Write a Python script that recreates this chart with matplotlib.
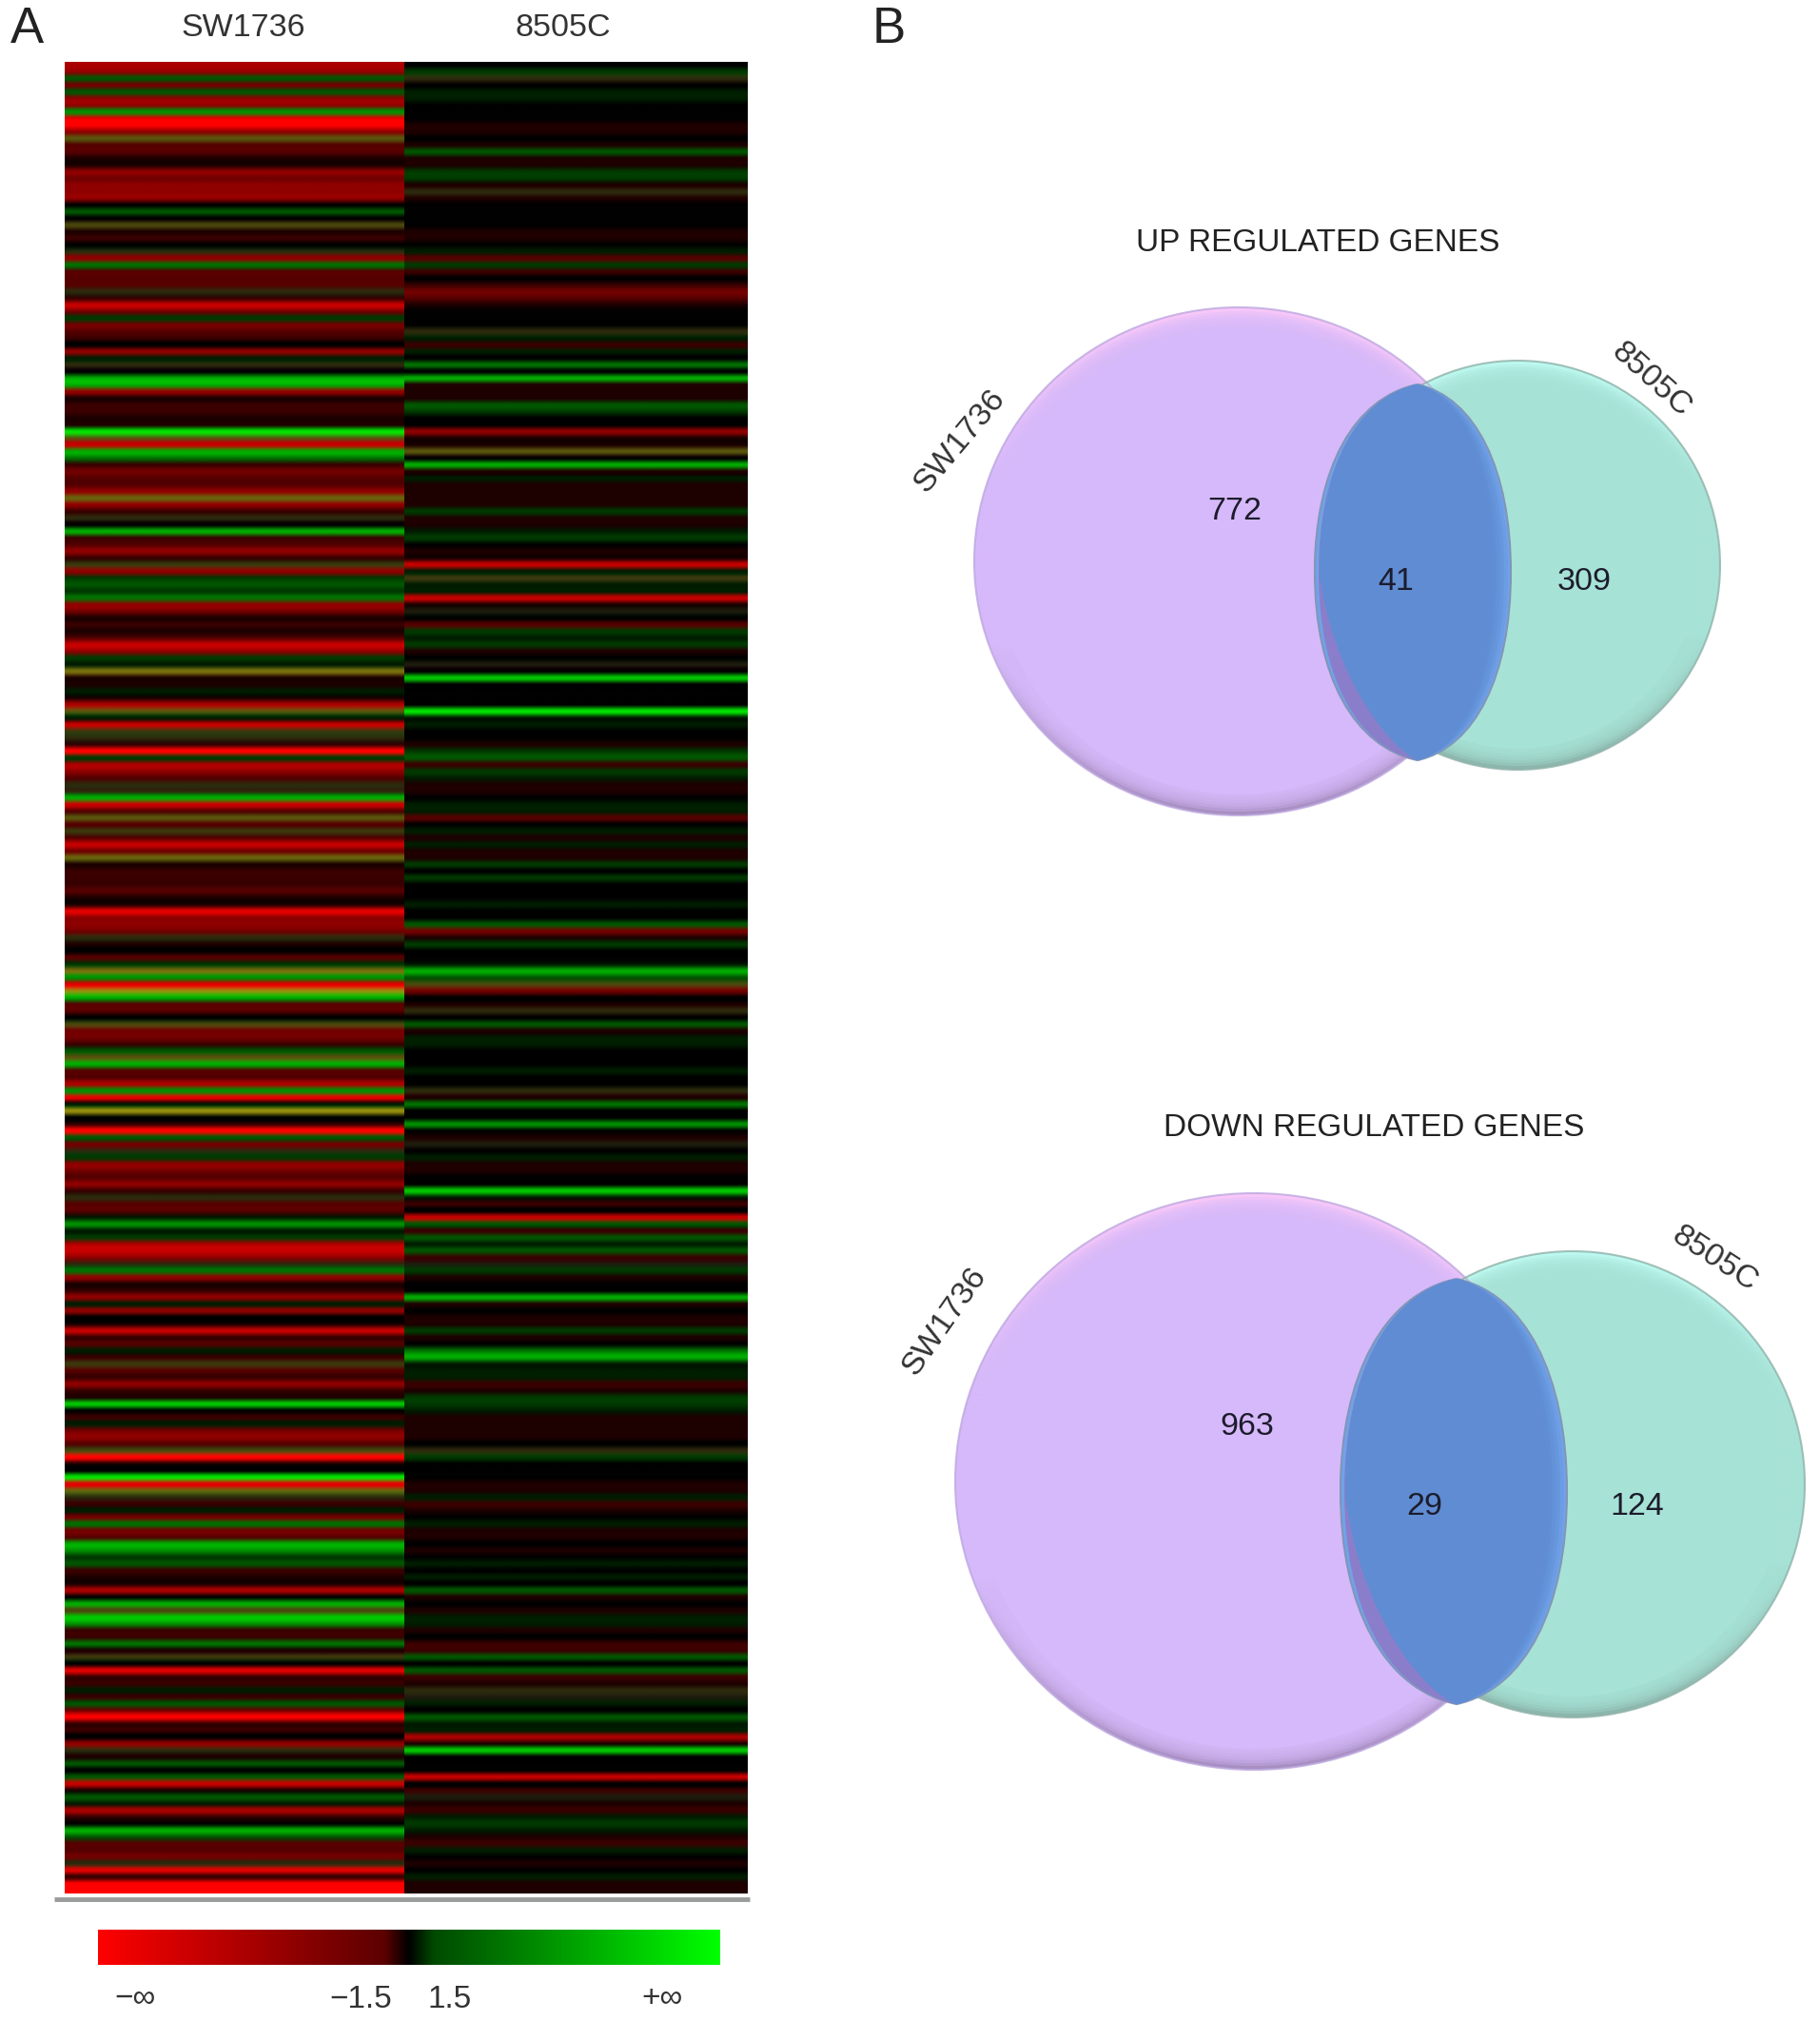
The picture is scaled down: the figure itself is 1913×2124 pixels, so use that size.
# -*- coding: utf-8 -*-
# Heat map of the two cell lines (A) and the two Venn diagrams (B)
import numpy as np
import matplotlib
matplotlib.use('Agg')
import matplotlib.pyplot as plt
from matplotlib.colors import LinearSegmentedColormap, Normalize
from matplotlib.patches import Ellipse, PathPatch
from matplotlib.path import Path

plt.rcParams['font.family'] = ['Liberation Sans', 'DejaVu Sans']

# Heat map rows: negative = red, positive = green
sw1736 = [
    -6, -5, 3, -4, 3, -5, -5, 5, -8, -9,
    -5, 0, -3, -3, -1, -1, -5, -4, -5, -5,
    -5, 0, 3, 0, 0, -1, -2, 0, 0, -5,
    4, -3, -3, -3, 0, -2, -7, -4, 2, -4,
    -3, -2, 0, -5, 1, 0, 0, 6, 6, -5,
    -1, -2, -2, -1, -1, 8, 0, -7, 6, 4,
    -2, -4, -3, -3, -5, 0, -5, -2, 0, 0,
    6, -2, -3, -5, -2, 0, -5, 2, 3, 2,
    4, -5, -4, -1, -2, -1, -3, -7, -5, 2,
    1, 0, -1, -1, 1, -1, -6, 0, 1, -7,
    0, 0, -2, -9, 2, -6, -5, -3, 0, 0,
    6, -7, -3, 0, -3, 0, -3, -7, -4, 0,
    -1, -2, -2, -2, -3, -1, -1, -8, -5, -5,
    -4, 0, -1, 0, -3, 2, 0, 5, -8, 0,
    6, -3, -3, 0, 0, -4, -4, -2, 3, 0,
    6, -3, -3, -6, 5, -8, 1, 0, 0, -2,
    -9, 3, -4, 0, 2, -5, -4, -3, -5, -2,
    0, -3, -3, 1, 5, 1, 2, -6, -7, -5,
    0, 4, -5, -1, -2, -5, 1, -5, 0, -1,
    -7, -2, -3, 1, -2, 0, -3, -2, -5, -2,
    -1, 7, 0, -2, 1, -4, -5, -3, 0, -9,
    -1, 0, 8, -8, 0, 0, -2, 1, -4, 4,
    -4, -3, 6, 5, 2, 3, -2, -1, -1, -6,
    0, 6, 0, 7, 5, -2, -2, 4, -1, 0,
    0, -8, -2, -2, 1, -2, 3, -4, -9, -2,
    -2, 0, -5, 0, -1, 3, 0, 3, -7, -1,
    3, 1, -6, -2, 0, 6, 3, -3, -3, -4,
    0, -8, -2, -9, -9,
]
c8505 = [
    0, 2, 0, 0, 1, 1, 0, 0, 0, -1,
    -1, 0, -1, 3, -1, -1, 2, 2, -1, 0,
    -1, 0, 0, 0, 0, -1, -1, 0, 1, -3,
    2, -2, 0, -2, -4, -3, -1, 0, 0, 0,
    0, 1, -2, 1, 0, 4, 0, 6, -1, -1,
    -1, 3, 2, 0, 0, -5, -1, -1, 0, 0,
    6, -1, 1, -1, -1, -1, -1, 2, -1, -1,
    1, 2, 0, -1, -1, -7, 1, 0, 1, 1,
    -7, -1, 0, 0, -3, 2, 1, 2, -1, 0,
    0, 0, 7, 0, 0, 0, 0, 8, 1, 1,
    0, 0, -1, 2, 3, -2, 2, 1, -1, -1,
    0, 1, 1, -3, 0, 1, -1, 1, -1, -1,
    2, 0, 2, 0, 0, 0, 1, 0, 0, 3,
    -4, -1, 2, 0, 0, 1, 6, 3, 0, -4,
    0, -1, 0, 0, 3, -1, 1, 1, 0, 0,
    0, 1, 0, 0, 0, -1, 4, 0, 0, 5,
    0, -1, 0, 0, 1, -1, -1, 0, 0, 7,
    1, -2, 0, -7, 3, -2, 3, 1, 3, -2,
    0, 2, -1, 0, 0, 6, -1, 0, -1, -1,
    2, -1, 0, 4, 6, 1, 1, 1, -2, -1,
    2, 2, 1, -1, -1, -1, -1, 0, 0, 2,
    0, 0, 0, -1, -1, 1, -2, -1, 0, 1,
    -1, -1, 0, -1, 0, 1, 0, 1, 0, 3,
    -1, 0, -1, 1, 1, -1, 0, -2, -2, 3,
    0, 3, -2, -1, 0, 0, 1, 0, 3, 1,
    1, -6, -1, 7, 0, 0, 0, -7, 0, -2,
    0, -1, -2, 1, 2, 1, -1, -2, 1, 0,
    -1, 0, 1, -1, -1,
]

# Rows that mix red and green (olive in the picture): row number and strength
sw1736_olive_rows = [11, 24, 28, 34, 45, 56, 65, 68, 75, 91, 97, 100, 101, 108, 109, 113, 115, 119,
                     131, 136, 139, 144, 149, 157, 163, 170, 180, 195, 208, 214, 215, 232, 239, 253, 270]
sw1736_olive_levels = [3, 2.5, 1.5, 1.5, 1.5, 3, 3.5, 1.5, 2, 4, 3, 2, 1.5, 1.5, 1.5, 3, 2, 3.5,
                       1.5, 4, 5, 2.5, 3, 5, 1.5, 1.5, 1.5, 2, 2.5, 3.5, 1.5, 2.5, 2, 1.5, 1.5]
c8505_olive_rows = [2, 19, 40, 58, 77, 82, 90, 138, 142, 154, 162, 180, 208, 244, 245, 260]
c8505_olive_levels = [1.5, 1.5, 1.5, 3, 2, 1, 1, 2.5, 1.5, 1.5, 1, 1, 1.5, 1.5, 1, 1]

column_names = ['SW1736', '8505C']
scale_labels = ['\u2212\u221e', '\u22121.5', '1.5', '+\u221e']

venn_titles = ['UP REGULATED GENES', 'DOWN REGULATED GENES']
venn_counts = [[772, 41, 309], [963, 29, 124]]

cmap = LinearSegmentedColormap.from_list('rojo_verde', ['#ff0000', '#000000', '#00ff00'])
# the scale bar drops to black only right at its middle
cmap_escala = LinearSegmentedColormap.from_list(
    'escala', [(0, '#ff0000'), (0.46, '#5c0000'), (0.5, '#000000'), (0.54, '#004a00'), (1, '#00ff00')])
norm = Normalize(-9, 9)


def filas_rgb(valores, filas_olive, niveles_olive):
    # values through the colormap, then the mixed rows on top
    rgb = cmap(norm(np.array(valores, dtype=float)))[:, :3]
    for fila, nivel in zip(filas_olive, niveles_olive):
        rgb[fila] = [nivel / 9 * 1.05, nivel / 9, 0.05]
    return rgb[:, np.newaxis, :]


def venn_disco(ax, cx, cy, rx, ry, arriba, medio, abajo, borde):
    # bevelled disc: gradient rim fading into a flat centre
    rim = LinearSegmentedColormap.from_list('rim', [arriba, medio, medio, abajo])
    patch = Ellipse((cx, cy), 2 * rx, 2 * ry, fc='none', ec=borde, lw=1.5, alpha=0.8, zorder=3)
    im = ax.imshow(np.linspace(0, 1, 256)[:, np.newaxis], cmap=rim, aspect='auto',
                   extent=[cx - rx, cx + rx, cy + ry, cy - ry], zorder=2, interpolation='bilinear')
    ax.add_patch(patch)
    im.set_clip_path(patch)
    for paso in range(4, 22, 3):
        ax.add_patch(Ellipse((cx, cy), 2 * (rx - paso), 2 * (ry - paso), fc=medio, ec='none',
                             alpha=0.3, zorder=3))
    ax.add_patch(Ellipse((cx, cy), 2 * (rx - 22), 2 * (ry - 22), fc=medio, ec='none', zorder=3))


def lente(ax, xtip, top, bottom, left, right):
    # the overlap, two arcs that meet in a point top and bottom
    ym = (top + bottom) / 2
    h = ym - top

    def camino(xl, xr, tirar=0):
        verts = [(xtip, top),
                 (xtip + 0.62 * (xr - xtip), top + 0.07 * h), (xr, ym - 0.55 * h), (xr, ym),
                 (xr, ym + 0.55 * h), (xtip + 0.62 * (xr - xtip), bottom - 0.07 * h), (xtip, bottom),
                 (xtip + 0.62 * (xl - xtip) + tirar, bottom - 0.07 * h), (xl + tirar * 0.4, ym + 0.55 * h), (xl, ym),
                 (xl, ym - 0.55 * h), (xtip + 0.62 * (xl - xtip), top + 0.07 * h), (xtip, top)]
        codes = [Path.MOVETO] + [Path.CURVE4] * 12
        return Path(verts, codes)

    ax.add_patch(PathPatch(camino(left, right), fc='#6fa3ea', ec='#8296b8', lw=1.5, zorder=4))
    # darker sliver only on the lower left
    ax.add_patch(PathPatch(camino(left + 4, right - 30), fc='#8a7ecb', ec='none', zorder=4))
    ax.add_patch(PathPatch(camino(left + 5, right - 3, 34), fc='#6c9de4', ec='none', zorder=4))
    for paso, alfa in zip([4, 8, 12], [0.4, 0.4, 0.5]):
        ax.add_patch(PathPatch(camino(left + 5, right - 3 - paso, 34), fc='#5f8cd2', ec='none',
                               alpha=alfa, zorder=4))
    ax.add_patch(PathPatch(camino(left + 5, right - 19, 34), fc='#5f8cd2', ec='none', zorder=4))


fig = plt.figure(figsize=(19.13, 21.24), dpi=100)
ax = fig.add_axes([0, 0, 1, 1])
ax.set_xlim(0, 1913)
ax.set_ylim(2124, 0)
ax.set_autoscale_on(False)
ax.axis('off')

# A ***************************************************************************
ax.imshow(filas_rgb(sw1736, sw1736_olive_rows, sw1736_olive_levels), aspect='auto',
          extent=[67.5, 425, 1990, 65], interpolation='catrom', zorder=1)
ax.imshow(filas_rgb(c8505, c8505_olive_rows, c8505_olive_levels), aspect='auto',
          extent=[425, 786, 1990, 65], interpolation='catrom', zorder=1)
ax.plot([57, 788], [1996, 1996], color='#9a9c9c', lw=3.5, solid_capstyle='butt')

ax.text(28, 31, 'A', fontsize=38, ha='center', va='center', color='#222222')
ax.text(256, 30, column_names[0], fontsize=24.5, ha='center', va='center', color='#333333')
ax.text(592, 30, column_names[1], fontsize=24.5, ha='center', va='center', color='#333333')

# colour scale
ax.imshow(np.linspace(-9, 9, 512)[np.newaxis, :], cmap=cmap_escala, norm=norm, aspect='auto',
          extent=[103, 757, 2065, 2028], interpolation='bilinear', zorder=1)
for texto, x in zip(scale_labels, [142, 379, 473, 696]):
    ax.text(x, 2101, texto, fontsize=24, ha='center', va='center', color='#333333')

# B ***************************************************************************
ax.text(934, 31, 'B', fontsize=38, ha='center', va='center', color='#222222')

morado = ('#f8c8f8', '#d6b9fa', '#a88fc2', '#bda8e0')
turquesa = ('#bdf9f0', '#a7e2d6', '#8cb6ac', '#8fb2aa')

# up regulated
ax.text(1385, 255, venn_titles[0], fontsize=24, ha='center', va='center', color='#222222')
venn_disco(ax, 1302, 590, 278, 267, *morado)
venn_disco(ax, 1595, 594, 213, 215, *turquesa)
lente(ax, 1490, 404, 799, 1382, 1588)
for n, x, y in zip(venn_counts[0], [1298, 1467, 1665], [537, 612, 612]):
    ax.text(x, y, str(n), fontsize=24.5, ha='center', va='center', color='#1c1c2c', zorder=5)
ax.text(1009, 464, column_names[0], fontsize=24.5, rotation=50, ha='center', va='center',
        rotation_mode='anchor', color='#333333')
ax.text(1736, 399, column_names[1], fontsize=24.5, rotation=-42, ha='center', va='center',
        rotation_mode='anchor', color='#333333')

# down regulated
ax.text(1444, 1186, venn_titles[1], fontsize=24, ha='center', va='center', color='#222222')
venn_disco(ax, 1318, 1557, 314, 303, *morado)
venn_disco(ax, 1653, 1560, 244, 245, *turquesa)
lente(ax, 1531, 1344, 1791, 1409, 1647)
for n, x, y in zip(venn_counts[1], [1311, 1497, 1721], [1500, 1583, 1583]):
    ax.text(x, y, str(n), fontsize=24.5, ha='center', va='center', color='#1c1c2c', zorder=5)
ax.text(993, 1389, column_names[0], fontsize=24.5, rotation=55, ha='center', va='center',
        rotation_mode='anchor', color='#333333')
ax.text(1802, 1323, column_names[1], fontsize=24.5, rotation=-33, ha='center', va='center',
        rotation_mode='anchor', color='#333333')

fig.savefig('out.png', dpi=100)
